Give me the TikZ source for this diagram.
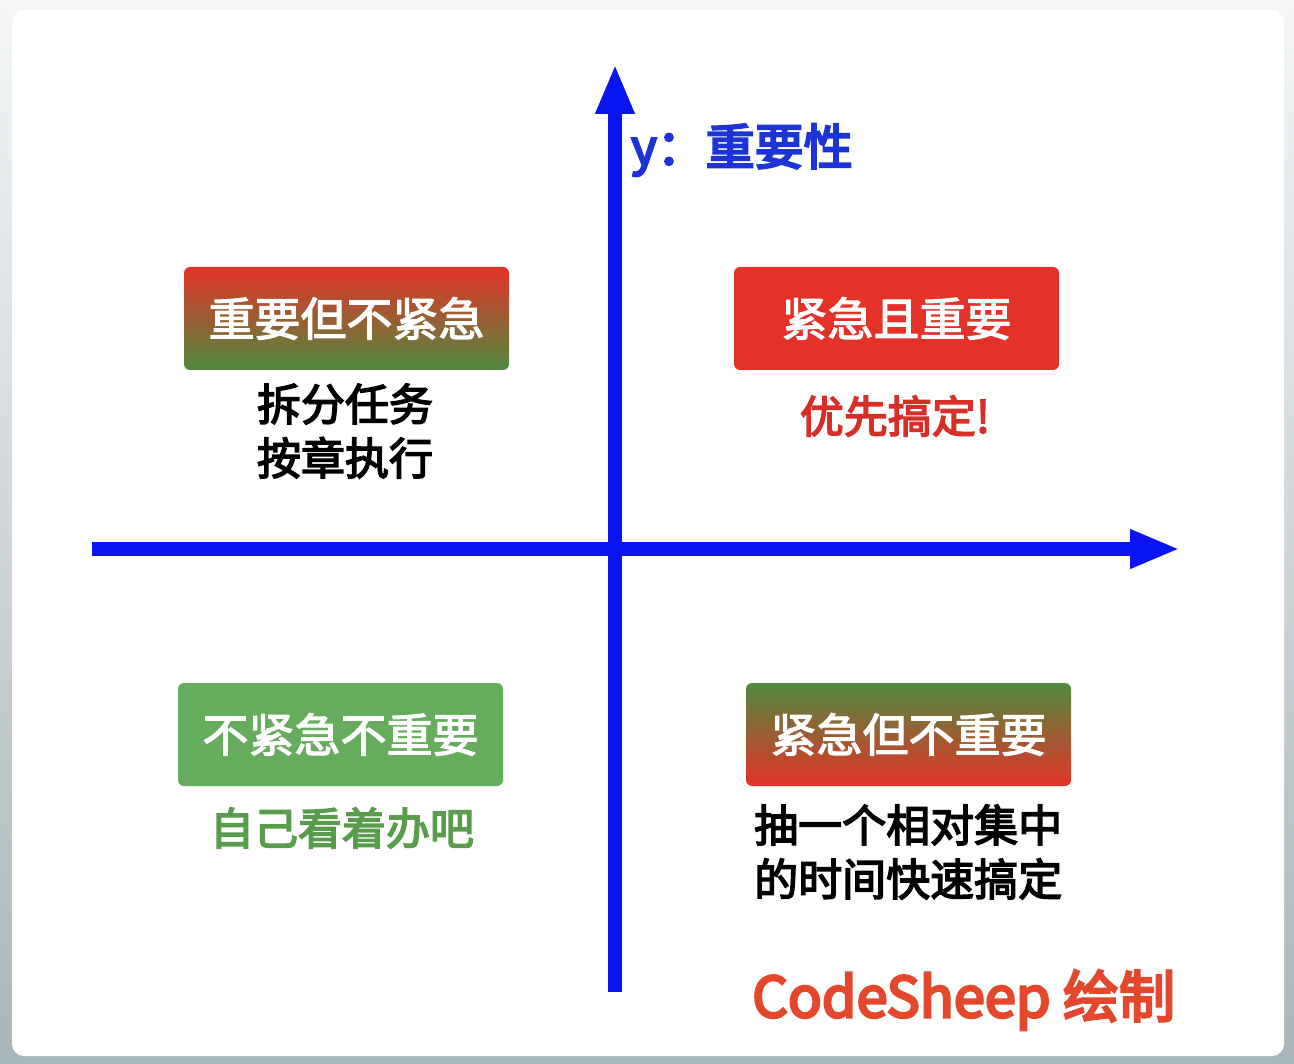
\documentclass[tikz,border=0pt]{standalone}
\usepackage{fontspec}
\newfontfamily\cjk{Noto Sans CJK SC}
\newcommand\thicktext[2]{\special{pdf:literal direct 2 Tr #1 w}#2\special{pdf:literal direct 0 Tr}}
\usetikzlibrary{arrows.meta}
\definecolor{axisblue}{RGB}{10,20,240}
\definecolor{labelblue}{RGB}{28,52,215}
\definecolor{boxred}{RGB}{228,50,40}
\definecolor{boxgreen}{RGB}{80,138,62}
\definecolor{lightgreen}{RGB}{101,172,92}
\definecolor{textgreen}{RGB}{88,156,76}
\definecolor{textred}{RGB}{216,46,40}
\definecolor{signred}{RGB}{228,72,44}
\definecolor{bgtop}{RGB}{244,246,247}
\definecolor{bgbot}{RGB}{168,182,188}
\begin{document}
\begin{tikzpicture}[x=1pt,y=-1pt,
  quad/.style={rounded corners=6pt, minimum width=325pt, minimum height=103pt,
    inner sep=0pt, text=white, font=\cjk\fontsize{46}{54}\selectfont},
  note/.style={font=\cjk\fontsize{44}{54}\selectfont, align=center, inner sep=0pt},
  axis/.style={line width=14pt, draw=axisblue, -{Triangle[width=36pt,length=50pt]}}
]
\useasboundingbox (0,0) rectangle (1294,1064);
% background and card
\shade[top color=bgtop, bottom color=bgbot] (0,0) rectangle (1294,1064);
\fill[white, rounded corners=12pt] (12,10) rectangle (1284,1056);
% axes
\coordinate (xs) at (92,549);
\coordinate (xe) at (1180,549);
\coordinate (ys) at (615,992);
\coordinate (ye) at (615,64);
\draw[axis] (xs) -- (xe);
\draw[axis] (ys) -- (ye);
\node[anchor=west, text=labelblue, font=\cjk\fontsize{49}{54}\selectfont, inner sep=0pt] (ylab) at (631,150) {\thicktext{2.2}{y：重要性}};
% quadrants
\node[quad, top color=boxred, bottom color=boxgreen] (tl) at (346.5,318.5) {\thicktext{1.2}{重要但不紧急}};
\node[note, text=black] (tlt) at (345,431) {\thicktext{1.5}{拆分任务}\\\thicktext{1.5}{按章执行}};
\node[quad, fill=boxred] (tr) at (896.5,318.5) {\thicktext{1.2}{紧急且重要}};
\node[note, text=textred] (trt) at (895,416) {\thicktext{1.5}{优先搞定!}};
\node[quad, fill=lightgreen] (bl) at (340.5,734.5) {\thicktext{1.2}{不紧急不重要}};
\node[note, text=textgreen] (blt) at (342,828) {\thicktext{1.5}{自己看着办吧}};
\node[quad, top color=boxgreen, bottom color=boxred] (br) at (908.5,734.5) {\thicktext{1.2}{紧急但不重要}};
\node[note, text=black, align=left, anchor=west] (brt) at (754,852) {\thicktext{1.5}{抽一个相对集中}\\\thicktext{1.5}{的时间快速搞定}};
% signature
\node[anchor=west, text=signred, font=\cjk\fontsize{56}{60}\selectfont, inner sep=0pt] (sig) at (752,1000) {\thicktext{2.6}{CodeSheep 绘制}};
\end{tikzpicture}
\end{document}
